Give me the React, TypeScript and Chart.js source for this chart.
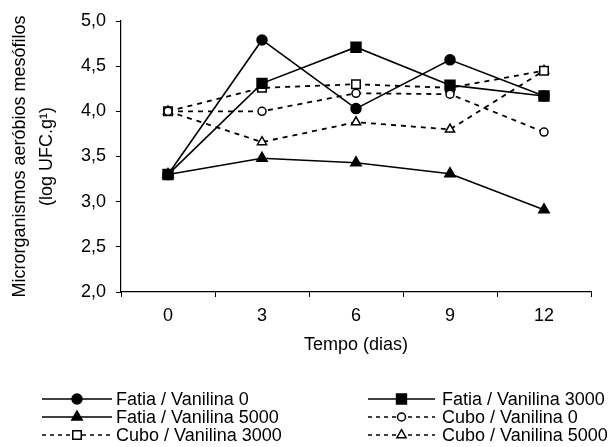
import { useEffect, useRef } from "react";
import { Chart, registerables } from "chart.js";

Chart.register(...registerables);

const categories = ["0", "3", "6", "9", "12"];
const fatiaV0 = [3.3, 4.79, 4.03, 4.57, 4.17];
const fatiaV3000 = [3.3, 4.31, 4.71, 4.29, 4.17];
const fatiaV5000 = [3.3, 3.48, 3.43, 3.31, 2.91];
const cuboV0 = [4.0, 4.0, 4.2, 4.19, 3.77];
const cuboV3000 = [4.0, 4.26, 4.3, 4.26, 4.45];
const cuboV5000 = [4.0, 3.66, 3.88, 3.8, 4.45];

const seriesNames = [
  "Fatia / Vanilina 0",
  "Fatia / Vanilina 3000",
  "Fatia / Vanilina 5000",
  "Cubo / Vanilina 0",
  "Cubo / Vanilina 3000",
  "Cubo / Vanilina 5000",
];

const FONT = "'Liberation Sans', Arial, sans-serif";
const FS = 18;

type Style = {
  shape: "circle" | "rect" | "triangle";
  filled: boolean;
  dashed: boolean;
  radius: number;
};

const styles: Style[] = [
  { shape: "circle", filled: true, dashed: false, radius: 5 },
  { shape: "rect", filled: true, dashed: false, radius: 7 },
  { shape: "triangle", filled: true, dashed: false, radius: 6 },
  { shape: "circle", filled: false, dashed: true, radius: 4 },
  { shape: "rect", filled: false, dashed: true, radius: 6 },
  { shape: "triangle", filled: false, dashed: true, radius: 5.3 },
];

function drawMarker(ctx: CanvasRenderingContext2D, s: Style, x: number, y: number, r: number) {
  ctx.beginPath();
  if (s.shape === "circle") {
    ctx.arc(x, y, r, 0, Math.PI * 2);
  } else if (s.shape === "rect") {
    const h = r * Math.SQRT1_2;
    ctx.rect(x - h, y - h, 2 * h, 2 * h);
  } else {
    ctx.moveTo(x, y - r);
    ctx.lineTo(x + r * Math.cos(Math.PI / 6), y + r * 0.5);
    ctx.lineTo(x - r * Math.cos(Math.PI / 6), y + r * 0.5);
    ctx.closePath();
  }
  ctx.setLineDash([]);
  ctx.fillStyle = s.filled ? "#000" : "#fff";
  ctx.fill();
  ctx.lineWidth = 1.5;
  ctx.strokeStyle = "#000";
  ctx.stroke();
}

const legendPlugin = {
  id: "customLegend",
  afterDraw(chart: any) {
    const ctx: CanvasRenderingContext2D = chart.ctx;
    ctx.save();
    const rowsY = [399, 417, 435];
    const cols = [
      { x0: 42, x1: 112, tx: 116 },
      { x0: 368, x1: 435, tx: 442 },
    ];
    seriesNames.forEach((name, i) => {
      const c = cols[i % 2];
      const y = rowsY[Math.floor(i / 2)];
      const s = styles[i];
      ctx.beginPath();
      ctx.setLineDash(s.dashed ? [4, 4] : []);
      ctx.lineWidth = 1.5;
      ctx.strokeStyle = "#000";
      ctx.moveTo(c.x0, y);
      ctx.lineTo(c.x1, y);
      ctx.stroke();
      drawMarker(ctx, s, (c.x0 + c.x1) / 2, y, s.radius);
      ctx.setLineDash([]);
      ctx.fillStyle = "#000";
      ctx.font = `${FS}px ${FONT}`;
      ctx.textAlign = "left";
      ctx.textBaseline = "middle";
      ctx.fillText(name, c.tx, y + 1);
    });
    ctx.restore();
  },
};

export default function App() {
  const ref = useRef<HTMLCanvasElement | null>(null);

  useEffect(() => {
    if (!ref.current) return;
    const seriesData = [fatiaV0, fatiaV3000, fatiaV5000, cuboV0, cuboV3000, cuboV5000];
    const orders = [1, 0, 2, 3, 4, 5];
    const chart = new Chart(ref.current, {
      type: "line",
      data: {
        labels: categories,
        datasets: seriesData.map((d, i) => ({
          label: seriesNames[i],
          data: d,
          order: orders[i],
          borderColor: "#000",
          borderWidth: styles[i].dashed ? 1.8 : 1.6,
          borderDash: styles[i].dashed ? [5, 5] : [],
          pointStyle: styles[i].shape,
          pointRadius: styles[i].radius,
          pointHoverRadius: styles[i].radius,
          pointBackgroundColor: styles[i].filled ? "#000" : "#fff",
          pointBorderColor: "#000",
          pointBorderWidth: 1.5,
          tension: 0,
          fill: false,
        })),
      },
      options: {
        animation: false,
        responsive: true,
        maintainAspectRatio: false,
        layout: { padding: { left: 0, right: 20, top: 21, bottom: 0 } },
        plugins: {
          legend: { display: false },
          tooltip: { enabled: false },
        },
        scales: {
          x: {
            type: "category",
            offset: true,
            grid: {
              offset: true,
              drawOnChartArea: false,
              drawTicks: true,
              tickLength: 5,
              tickColor: "#000",
              tickWidth: 1,
            },
            border: { display: true, color: "#000", width: 1.2 },
            ticks: { color: "#000", font: { family: FONT, size: FS }, padding: 8 },
            title: {
              display: true,
              text: "Tempo (dias)",
              color: "#000",
              font: { family: FONT, size: FS },
              padding: { top: 0, bottom: 91 },
            },
            afterFit: (s: any) => {
              s.height = 155;
            },
          },
          y: {
            min: 2,
            max: 5,
            grid: {
              drawOnChartArea: false,
              drawTicks: true,
              tickLength: 5,
              tickColor: "#000",
              tickWidth: 1,
            },
            border: { display: true, color: "#000", width: 1.2 },
            ticks: {
              stepSize: 0.5,
              color: "#000",
              font: { family: FONT, size: FS },
              padding: 10,
              callback: (v: any) => Number(v).toFixed(1).replace(".", ","),
            },
            title: {
              display: true,
              text: ["Microrganismos aeróbios mesófilos", "(log UFC.g¹)"],
              color: "#000",
              font: { family: FONT, size: FS, lineHeight: 1.5 },
              padding: { top: 6.5, bottom: 0 },
            },
            afterFit: (s: any) => {
              s.width = 121;
            },
          },
        },
      },
      plugins: [legendPlugin],
    });
    return () => chart.destroy();
  }, []);

  return (
    <div style={{ position: "fixed", left: 0, top: 0, width: 611, height: 447, background: "#fff" }}>
      <canvas ref={ref} />
    </div>
  );
}
